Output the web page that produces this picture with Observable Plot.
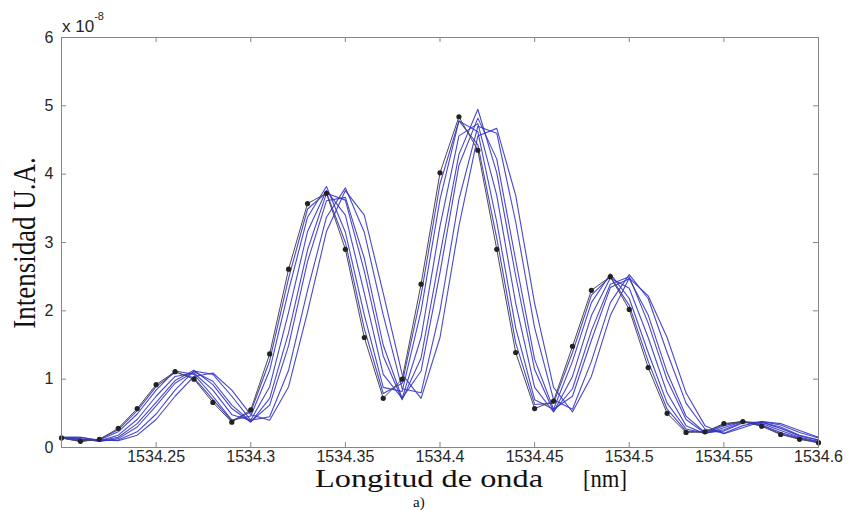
<!DOCTYPE html>
<html><head><meta charset="utf-8">
<script src="https://cdn.jsdelivr.net/npm/d3@7"></script>
<script src="https://cdn.jsdelivr.net/npm/@observablehq/plot@0.6"></script>
<style>body{margin:0;background:#fff;} #chart{width:848px;height:510px;}</style>
</head><body><div id="chart"></div>
<script>
// Wavelength samples [nm]
const longitud = [1534.20,1534.21,1534.22,1534.23,1534.24,1534.25,1534.26,1534.27,1534.28,1534.29,1534.30,
  1534.31,1534.32,1534.33,1534.34,1534.35,1534.36,1534.37,1534.38,1534.39,1534.40,
  1534.41,1534.42,1534.43,1534.44,1534.45,1534.46,1534.47,1534.48,1534.49,1534.50,
  1534.51,1534.52,1534.53,1534.54,1534.55,1534.56,1534.57,1534.58,1534.59,1534.60];

// Intensity (x 1e-8): reference spectrum (black with dots)
const espectroRef = [0.14,0.09,0.12,0.28,0.57,0.92,1.11,1.00,0.66,0.37,0.55,1.37,2.61,3.57,3.72,2.90,1.61,0.72,1.00,2.39,4.02,4.84,4.35,2.90,1.39,0.57,0.68,1.48,2.30,2.50,2.02,1.17,0.50,0.22,0.23,0.35,0.38,0.31,0.19,0.12,0.07];

// Shifted spectra (blue)
const espectro1 = [0.14,0.09,0.12,0.26,0.54,0.89,1.10,1.02,0.70,0.39,0.52,1.27,2.48,3.49,3.73,3.00,1.74,0.79,0.94,2.23,3.86,4.78,4.43,3.06,1.53,0.63,0.65,1.39,2.23,2.50,2.08,1.26,0.56,0.24,0.22,0.34,0.38,0.32,0.20,0.13,0.07];
const espectro2 = [0.14,0.10,0.11,0.23,0.49,0.84,1.12,1.07,0.75,0.40,0.46,1.13,2.30,3.37,3.82,3.15,1.94,0.88,0.82,2.00,3.63,4.78,4.62,3.30,1.75,0.70,0.56,1.26,2.12,2.54,2.18,1.39,0.65,0.27,0.21,0.32,0.38,0.33,0.22,0.14,0.08];
const espectro3 = [0.15,0.11,0.10,0.18,0.41,0.75,1.04,1.09,0.84,0.48,0.40,0.89,1.98,3.16,3.76,3.40,2.26,1.07,0.72,1.61,3.24,4.56,4.74,3.69,2.11,0.88,0.52,1.04,1.93,2.48,2.33,1.61,0.80,0.32,0.20,0.29,0.38,0.35,0.25,0.15,0.09];
const espectro4 = [0.15,0.12,0.10,0.15,0.35,0.66,0.98,1.13,0.92,0.57,0.37,0.72,1.68,2.89,3.72,3.62,2.58,1.34,0.70,1.31,2.82,4.29,4.95,4.02,2.51,1.14,0.53,0.86,1.71,2.39,2.50,1.82,0.99,0.41,0.21,0.26,0.37,0.37,0.28,0.17,0.11];
const espectro5 = [0.15,0.13,0.09,0.13,0.30,0.61,0.94,1.11,0.97,0.62,0.38,0.62,1.49,2.72,3.61,3.66,2.77,1.50,0.72,1.12,2.56,4.13,4.82,4.22,2.74,1.29,0.56,0.75,1.57,2.34,2.47,1.94,1.10,0.46,0.22,0.24,0.36,0.37,0.30,0.18,0.11];
const espectro6 = [0.15,0.15,0.10,0.11,0.23,0.49,0.84,1.12,1.07,0.75,0.40,0.45,1.13,2.30,3.37,3.80,3.15,1.94,0.86,0.80,2.00,3.63,4.70,4.60,3.30,1.75,0.70,0.56,1.26,2.12,2.53,2.18,1.39,0.65,0.27,0.21,0.32,0.38,0.33,0.22,0.14];
const espectro7 = [0.15,0.15,0.11,0.10,0.18,0.41,0.75,1.04,1.09,0.84,0.48,0.40,0.89,1.98,3.16,3.76,3.40,2.26,1.07,0.72,1.61,3.24,4.56,4.67,3.69,2.11,0.88,0.52,1.04,1.93,2.48,2.22,1.61,0.80,0.32,0.20,0.29,0.38,0.35,0.25,0.15];

const xTicks = [1534.25,1534.3,1534.35,1534.4,1534.45,1534.5,1534.55,1534.6];
const yTicks = [0,1,2,3,4,5,6];

const azules = [espectro1,espectro2,espectro3,espectro4,espectro5,espectro6,espectro7];
const filasAzules = azules.flatMap((s,i)=> s.map((v,k)=>({serie:i, x:longitud[k], y:v})));
const filasRef = espectroRef.map((v,k)=>({x:longitud[k], y:v}));

const W = 848, H = 510, mL = 61, mR = 30, mT = 37, mB = 63;
const innerW = W - mL - mR, innerH = H - mT - mB, tk = 5;

const chart = Plot.plot({
  width: W, height: H,
  marginLeft: mL, marginRight: mR, marginTop: mT, marginBottom: mB,
  style: {fontFamily: "'Liberation Sans', Arial, sans-serif", fontSize: "16px", color: "#262626", background: "#fff"},
  x: {domain: [1534.2, 1534.6]},
  y: {domain: [0, 6]},
  marks: [
    Plot.line(filasAzules, {x: "x", y: "y", z: "serie", stroke: "#3434c4", strokeWidth: 1.1, strokeOpacity: 0.9}),
    Plot.line(filasRef, {x: "x", y: "y", stroke: "#4a4a4a", strokeWidth: 1}),
    Plot.dot(filasRef, {x: "x", y: "y", r: 2.6, fill: "#222", stroke: "none"}),
    Plot.frame({stroke: "#858585"}),
    Plot.ruleX(xTicks, {x: d => d, insetTop: innerH - tk, stroke: "#858585"}),
    Plot.ruleX(xTicks, {x: d => d, insetBottom: innerH - tk, stroke: "#858585"}),
    Plot.ruleY(yTicks, {y: d => d, insetRight: innerW - tk, stroke: "#858585"}),
    Plot.ruleY(yTicks, {y: d => d, insetLeft: innerW - tk, stroke: "#858585"}),
    Plot.axisX({ticks: xTicks, tickSize: 0, tickPadding: 3, label: null, tickFormat: d => String(d)}),
    Plot.axisY({ticks: yTicks, tickSize: 0, tickPadding: 8, label: null, tickFormat: d => String(d)})
  ]
});
document.getElementById("chart").appendChild(chart);

const svg = d3.select(chart);
const serif = "'Liberation Serif', 'Times New Roman', serif";
// exponent
const ex = svg.append("text").attr("x", 62).attr("y", 32).attr("text-anchor", "start")
  .attr("font-family", "'Liberation Sans', Arial, sans-serif").attr("font-size", 17).attr("fill", "#262626");
ex.append("tspan").text("x 10");
ex.append("tspan").attr("font-size", 11).attr("dy", -12).text("-8");

// y label
svg.append("text")
  .attr("transform", "translate(35,243) rotate(-90) scale(1,1.15)")
  .attr("text-anchor", "middle")
  .attr("font-family", serif)
  .attr("font-size", 27).attr("fill", "#111")
  .text("Intensidad U.A.");

// x label
svg.append("text").attr("x", 315).attr("y", 487).attr("text-anchor", "start")
  .attr("font-family", serif)
  .attr("font-size", 25).attr("fill", "#111")
  .attr("textLength", 228).attr("lengthAdjust", "spacingAndGlyphs")
  .text("Longitud de onda");
svg.append("text").attr("x", 583).attr("y", 487).attr("text-anchor", "start")
  .attr("font-family", serif)
  .attr("font-size", 25).attr("fill", "#111")
  .attr("textLength", 44).attr("lengthAdjust", "spacingAndGlyphs")
  .text("[nm]");
svg.append("text").attr("x", 413).attr("y", 507).attr("text-anchor", "start")
  .attr("font-family", serif)
  .attr("font-size", 15).attr("fill", "#111")
  .text("a)");
</script>
</body></html>
